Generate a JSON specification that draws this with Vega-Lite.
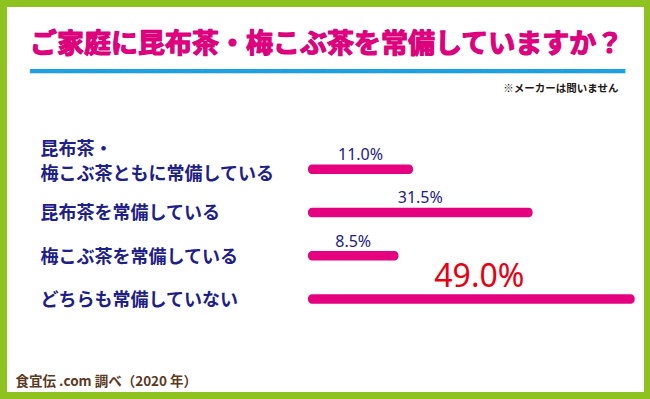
{
  "$schema": "https://vega.github.io/schema/vega-lite/v6.json",
  "width": 637,
  "height": 385,
  "autosize": {"type": "none"},
  "padding": {"left": 7, "top": 7, "right": 6, "bottom": 7},
  "background": "#8dc21f",
  "config": {
    "view": {"fill": "white", "stroke": null},
    "font": "Noto Sans CJK JP",
    "style": {"group-title": {"stroke": "#d6007a", "strokeWidth": 1.2, "strokeJoin": "round"}}
  },
  "title": {
    "text": "ご家庭に昆布茶・梅こぶ茶を常備していますか？",
    "subtitle": "━━━━━━━━━━━━━━━━━━━━━━━━━━━━━━━━━━━━━━",
    "anchor": "start",
    "frame": "group",
    "dx": 23,
    "offset": -79,
    "font": "Noto Sans CJK JP",
    "fontSize": 27,
    "fontWeight": "bold",
    "color": "#e4007f",
    "subtitleFont": "DejaVu Sans",
    "subtitleFontSize": 26,
    "subtitleColor": "#1ba1e2",
    "subtitlePadding": 0
  },
  "data": {
    "values": [
      {"category": "昆布茶・梅こぶ茶ともに常備している", "value": 11.0},
      {"category": "昆布茶を常備している", "value": 31.5},
      {"category": "梅こぶ茶を常備している", "value": 8.5},
      {"category": "どちらも常備していない", "value": 49.0}
    ]
  },
  "transform": [
    {"calculate": "(datum.value - 7) / 2", "as": "mid"},
    {"calculate": "format(datum.value, '.1f') + '%'", "as": "label"}
  ],
  "encoding": {
    "y": {
      "field": "category",
      "type": "nominal",
      "sort": null,
      "scale": {"range": [157.4, 296.8], "paddingInner": 0.78, "paddingOuter": 0},
      "axis": {
        "orient": "left",
        "offset": -33,
        "domain": false,
        "ticks": false,
        "tickSize": 0,
        "grid": false,
        "labelPadding": 0,
        "labelAlign": "left",
        "labelBaseline": "bottom",
        "labelOffset": {"condition": {"test": "datum.value == '昆布茶・梅こぶ茶ともに常備している'", "value": -10.5}, "value": 11},
        "labelFontSize": 18,
        "labelFontWeight": "bold",
        "labelColor": "#1d2088",
        "labelLineHeight": 25,
        "labelLimit": 320,
        "labelOverlap": false,
        "labelBound": false,
        "labelExpr": "datum.label == '昆布茶・梅こぶ茶ともに常備している' ? ['昆布茶・', '梅こぶ茶ともに常備している'] : datum.label",
        "title": "※メーカーは問いません",
        "titleAngle": 0,
        "titleAlign": "right",
        "titleBaseline": "middle",
        "titleX": 578,
        "titleY": 81,
        "titleFontSize": 10.5,
        "titleFontWeight": "bold",
        "titleColor": "#231815"
      }
    }
  },
  "layer": [
    {
      "mark": {"type": "bar", "color": "#e4007f", "cornerRadius": 4},
      "encoding": {
        "x": {
          "field": "value",
          "type": "quantitative",
          "scale": {"domain": [-58.6, 50.6], "nice": false, "zero": false},
          "axis": {
            "orient": "bottom",
            "domain": false,
            "ticks": false,
            "labels": false,
            "grid": false,
            "title": "食宜伝 .com 調べ（2020 年）",
            "titleX": 8,
            "titleY": -11,
            "titleAlign": "left",
            "titleBaseline": "middle",
            "titleFontSize": 13.5,
            "titleFontWeight": "bold",
            "titleColor": "#5b3a1f"
          }
        },
        "x2": {"datum": -7}
      }
    },
    {
      "transform": [{"filter": "datum.value < 40"}],
      "mark": {"type": "text", "dy": -14, "fontSize": 16, "color": "#1d2088", "font": "Noto Sans"},
      "encoding": {
        "x": {"field": "mid", "type": "quantitative", "scale": {"domain": [-58.6, 50.6], "nice": false, "zero": false}},
        "text": {"field": "label"}
      }
    },
    {
      "transform": [{"filter": "datum.value >= 40"}],
      "mark": {"type": "text", "dy": -22, "dx": 8, "fontSize": 32, "color": "#e60012", "font": "Noto Sans"},
      "encoding": {
        "x": {"field": "mid", "type": "quantitative", "scale": {"domain": [-58.6, 50.6], "nice": false, "zero": false}},
        "text": {"field": "label"}
      }
    }
  ]
}
